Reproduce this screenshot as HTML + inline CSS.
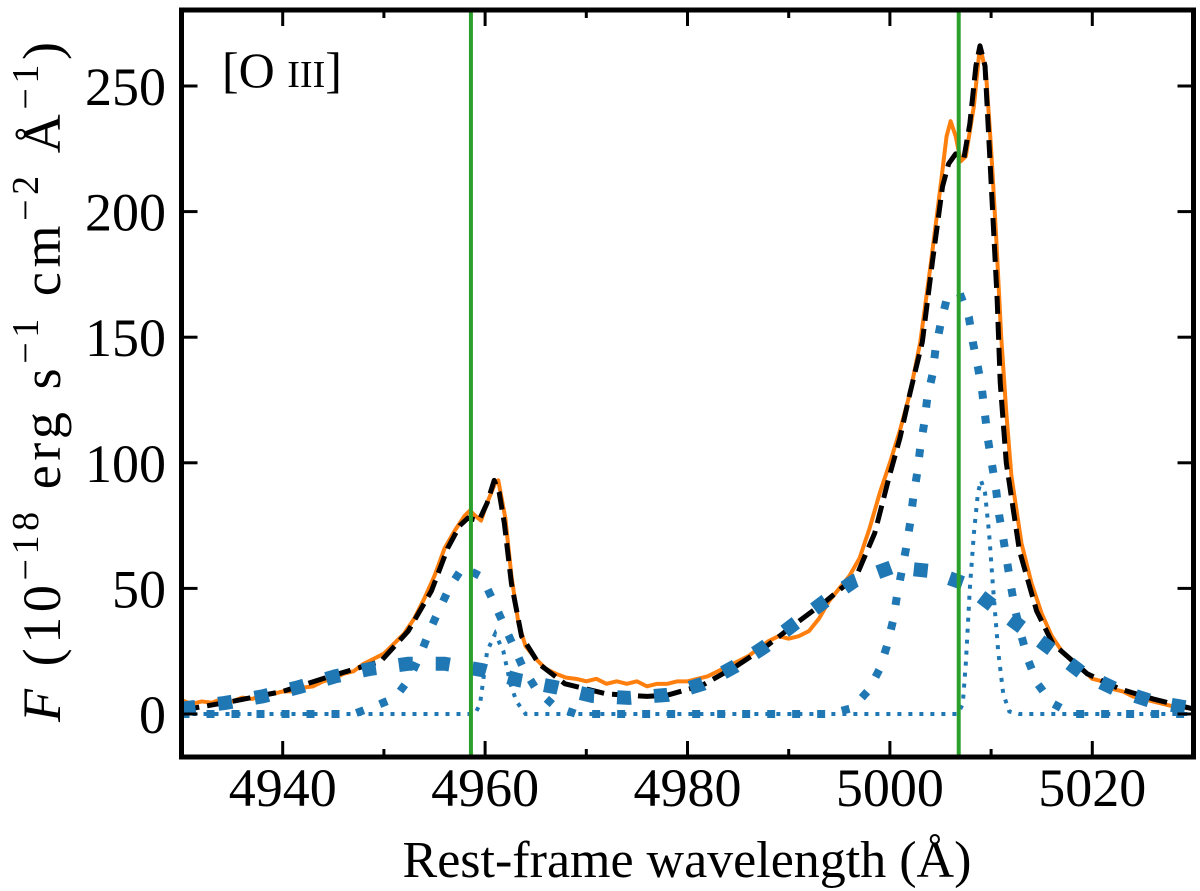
<!DOCTYPE html>
<html><head><meta charset="utf-8"><style>
html,body{margin:0;padding:0;background:#fff;}
svg{display:block;font-family:"Liberation Serif","DejaVu Serif",serif;}
</style></head><body>
<svg id="chart" width="1200" height="891" viewBox="0 0 1200 891" xmlns="http://www.w3.org/2000/svg">
<defs><clipPath id="clip"><rect x="181.5" y="10" width="1012" height="747"/></clipPath></defs>
<g id="plot" clip-path="url(#clip)"></g>
<g id="axes"></g>
<text x="222" y="87" font-size="50">[O <tspan font-size="38">III</tspan>]</text>
<text x="687" y="877" font-size="52" text-anchor="middle">Rest-frame wavelength (Å)</text>
<text transform="translate(60,382) rotate(-90)" font-size="54" text-anchor="middle" textLength="680" lengthAdjust="spacing"><tspan font-style="italic">F</tspan>   (10<tspan font-size="38" dy="-22">−18</tspan><tspan dy="22"> erg s</tspan><tspan font-size="38" dy="-22">−1</tspan><tspan dy="22"> cm</tspan><tspan font-size="38" dy="-22">−2</tspan><tspan dy="22"> Å</tspan><tspan font-size="38" dy="-22">−1</tspan><tspan dy="22">)</tspan></text>
</svg>
<script>
const xTicks = [4940, 4960, 4980, 5000, 5020];
const xMinorTicks = [4930, 4950, 4970, 4990, 5010, 5030];
const yTicks = [0, 50, 100, 150, 200, 250];
const refLines = [4958.6, 5006.8];

const obsWave = [4930,4931,4932,4933,4934,4935,4936,4937,4938,4939,4940,4941,4942,4943,4944,4945,4946,4947,4948,4949,4950,4951,4952,4953,4954,4955,4956,4957,4958,4958.5,4959,4959.6,4960.2,4961,4961.3,4962,4962.6,4963.3,4964,4965,4966,4967,4968,4969,4970,4971,4972,4973,4974,4975,4976,4977,4978,4979,4980,4981,4982,4983,4984,4985,4986,4987,4988,4989,4990,4991,4992,4993,4994,4995,4996,4997,4998,4999,5000,5001,5002,5003,5004,5005,5005.6,5006,5006.5,5007,5007.5,5008.3,5008.9,5009.5,5010,5010.5,5011,5011.5,5012,5013,5014,5015,5016,5017,5018,5019,5020,5021,5022,5023,5024,5025,5026,5027,5028,5029,5030];
const obsFlux = [5.5,4,5,4.5,6,5,6.5,6,7.5,8,9,9,10.5,11,13,14,16,17,20,22,24,28,32,38,46,55,66,73,79,81,79,77,84,92,93,78,55,36,27,22,18,16,14.5,14,13,14,12,13,12,13,11,12,12,13,13,14,15,17,19,21,23,26,29,31,30,31,33,38,45,50,55,62,74,88,100,113,128,148,178,210,230,236,230,220,222,242,266,255,225,190,150,120,95,68,52,40,31,25,21,18,14,13,10,9,7,6,5,4,3,2.5,2];

const fitWave = [4930,4935,4940,4944.7,4949.7,4952.4,4954.7,4956.3,4957.5,4958.3,4959.4,4960.2,4960.9,4961.4,4961.9,4962.6,4963.6,4965.3,4967.9,4972,4976,4978,4981.5,4984.8,4987.8,4990.7,4993.7,4996.7,4998.5,4999.9,5001,5002,5003.2,5004.2,5005.2,5005.8,5006.5,5007.3,5007.9,5008.5,5008.9,5009.4,5010.1,5010.6,5010.9,5011.5,5012.8,5014.5,5016.1,5019.5,5022.7,5026,5030];
const fitFlux = [1.5,5,9,15,21,33,49,66,75,78,77,84,93,88,76,52,31,20,12,8,7,7.5,11.5,19,27,36,45,55,72,94,110,128,148,180,210,219,223,221,235,258,266,258,204,165,132,100,65,41,28,16,10,6,2];

const broadWave = [4930,4930.6,4934.3,4938,4941.6,4945.2,4948.7,4952.4,4956,4959.7,4963.3,4966.9,4970.6,4974.2,4978,4981.5,4984.7,4987.7,4990.6,4993.6,4996.5,5000.2,5003.8,5007.3,5010.2,5013.2,5016.2,5019.1,5022.5,5025.9,5029.4,5030];
const broadFlux = [2.2,2.4,4.4,7,10.7,15,18,20,20,17.5,13.5,10.7,7.2,6.4,7.6,12,19,27,36,45,53,58.5,57,52,43,34,25,16,9.5,5,2.5,2.3];

const medWave = [4930,4947,4948.9,4951.1,4952.5,4953.6,4954.5,4955.4,4956.5,4957.8,4959.7,4960.8,4961.8,4962.8,4963.8,4965.1,4966.9,4969,4994,4996.3,4997.9,4999,4999.7,5000.3,5000.7,5001.6,5002,5002.3,5002.7,5003,5003.4,5003.7,5004.2,5004.5,5005,5005.6,5006.9,5007.8,5008.2,5008.7,5009.1,5009.4,5009.7,5010.1,5010.5,5010.8,5011.2,5011.6,5012,5012.4,5013,5013.7,5014.6,5016,5018,5030];
const medFlux = [0,0,2.8,6.4,14,23.5,33,41,50.5,58.5,54.5,45,36,27,18,9.5,3,0,0,2.4,9.5,18,27,37,47,66,76,86,96,106,116,126,135,145,155,165,167.5,158,148,138,129,119,109,99,89,79,70,60,50,41,31,21,12,4.4,0,0];

const narrowWave = [4930,4959,4959.5,4959.8,4960.2,4961,4961.8,4962.5,4963.1,4964,5006.7,5007.2,5007.5,5007.9,5008.3,5008.7,5009,5009.4,5009.8,5010.2,5010.7,5011.2,5011.8,5012.8,5030];
const narrowFlux = [0,0,4,13,25,32,25,12,5,0,0,4,20,50,72,88,93,88,72,50,25,8,1,0,0];

const NS = 'http://www.w3.org/2000/svg';
const X0 = 4930, X1 = 5030;
const L = 181.5, R = 1193.5, T = 10, B = 757;
function xs(v){ return L + (v - X0) * (R - L) / (X1 - X0); }
function ys(v){ return 714 - (v) * (714 - 86) / 250; }
function mk(tag, attrs, parent){
  const e = document.createElementNS(NS, tag);
  for (const k in attrs) e.setAttribute(k, attrs[k]);
  parent.appendChild(e); return e;
}
function pathD(w, f){ return w.map((l,i)=>(i?'L':'M')+xs(l).toFixed(2)+','+ys(f[i]).toFixed(2)).join(''); }

const plot = document.getElementById('plot');
const axes = document.getElementById('axes');

let p = mk('path', {d: pathD(obsWave, obsFlux), fill:'none', stroke:'#ff7f0e', 'stroke-width':4, 'stroke-linejoin':'round'}, plot);



p = mk('path', {d: pathD(fitWave, fitFlux), fill:'none', stroke:'#000', 'stroke-width':5, 'stroke-dasharray':'18 8', 'stroke-linejoin':'round'}, plot);



p = mk('path', {d: pathD(broadWave, broadFlux), fill:'none', stroke:'#1f77b4', 'stroke-width':14, 'stroke-dasharray':'14 23'}, plot);



p = mk('path', {d: pathD(medWave, medFlux), fill:'none', stroke:'#1f77b4', 'stroke-width':8, 'stroke-dasharray':'8 17'}, plot);



p = mk('path', {d: pathD(narrowWave, narrowFlux), fill:'none', stroke:'#1f77b4', 'stroke-width':4, 'stroke-dasharray':'4 7'}, plot);



refLines.forEach(v=>{
  const l = mk('line', {x1:xs(v), x2:xs(v), y1:T, y2:B, stroke:'#2ca02c', 'stroke-width':4}, plot);
  
  
});

xTicks.forEach(v=>{
  const x = xs(v);
  let t = mk('line', {x1:x, x2:x, y1:B, y2:B-16, stroke:'#000', 'stroke-width':3}, axes);
  
  
  t = mk('line', {x1:x, x2:x, y1:T, y2:T+16, stroke:'#000', 'stroke-width':3}, axes);
  
  
  const lb = mk('text', {x:x, y:806, 'font-size':54, 'text-anchor':'middle'}, axes);
  lb.textContent = v;
  
  
});
xMinorTicks.forEach(v=>{
  const x = xs(v);
  let t = mk('line', {x1:x, x2:x, y1:B, y2:B-8, stroke:'#000', 'stroke-width':3}, axes);
  
  
  t = mk('line', {x1:x, x2:x, y1:T, y2:T+8, stroke:'#000', 'stroke-width':3}, axes);
  
  
});
yTicks.forEach(v=>{
  const y = ys(v);
  let t = mk('line', {x1:L, x2:L+16, y1:y, y2:y, stroke:'#000', 'stroke-width':3}, axes);
  
  
  t = mk('line', {x1:R, x2:R-16, y1:y, y2:y, stroke:'#000', 'stroke-width':3}, axes);
  
  
  const lb = mk('text', {x:166, y:y+19, 'font-size':54, 'text-anchor':'end'}, axes);
  lb.textContent = v;
  
  
});
const frame = mk('rect', {x:L, y:T, width:R-L, height:B-T, fill:'none', stroke:'#000', 'stroke-width':5}, axes);


</script>
</body></html>
